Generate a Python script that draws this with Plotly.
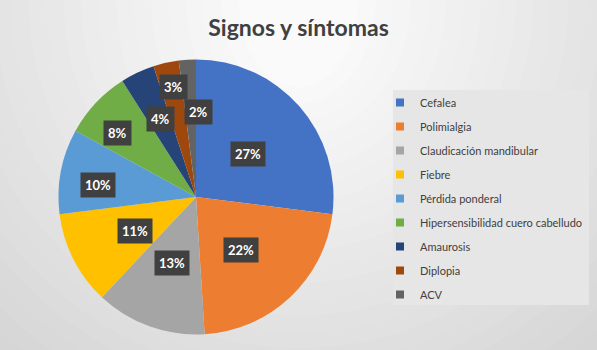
import math
import plotly.graph_objects as go

categories = ["Cefalea", "Polimialgia", "Claudicación mandibular", "Fiebre",
              "Pérdida ponderal", "Hipersensibilidad cuero cabelludo",
              "Amaurosis", "Diplopia", "ACV"]
values = [27, 22, 13, 11, 10, 8, 4, 3, 2]
colors = ["#4472C4", "#ED7D31", "#A5A5A5", "#FFC000", "#5B9BD5",
          "#70AD47", "#264478", "#9E480E", "#636363"]

W, H = 597, 350
cx, cy, R = 196, 197, 137.5  # pie centre / radius in px
FONT = "Lato, Open Sans, sans-serif"

fig = go.Figure()
fig.add_trace(go.Pie(
    labels=categories, values=values, sort=False, direction="clockwise",
    rotation=0, marker=dict(colors=colors, line=dict(width=0)),
    textinfo="none", hoverinfo="label+percent", showlegend=False,
    domain=dict(x=[(cx - R) / W, (cx + R) / W], y=[1 - (cy + R) / H, 1 - (cy - R) / H]),
))

# legend entries (one per category, so that the spacing can match)
for i, (lab, col) in enumerate(zip(categories, colors)):
    fig.add_trace(go.Scatter(
        x=[None], y=[None], mode="markers", name=lab, legendgroup=f"g{i}",
        marker=dict(symbol="square", size=8, color=col), hoverinfo="skip",
    ))

# label placement (radial fraction / angle nudge per slice, style only)
rfrac = [0.49, 0.51, 0.51, 0.51, 0.72, 0.74, 0.62, 0.82, 0.62]
angshift = [1.7, 2.8, 0.5, -1.9, -3.9, -3.9, 0.6, 1.0, 5.2]
total = sum(values)
cum = 0
for v, rf, sh in zip(values, rfrac, angshift):
    mid = (cum + v / 2) / total * 360 + sh
    cum += v
    th = math.radians(mid)
    px = cx + rf * R * math.sin(th)
    py = cy - rf * R * math.cos(th)
    fig.add_annotation(
        x=px / W, y=1 - py / H, xref="paper", yref="paper",
        xanchor="center", yanchor="middle",
        text=f"<b>{round(v / total * 100)}%</b>", showarrow=False,
        font=dict(family=FONT, size=13, color="white"),
        bgcolor="#404040", borderpad=4,
    )

# background radial gradient
shapes = []
n = 30
for i in range(n):
    t = i / (n - 1)
    c = int(205 + (250 - 205) * t)
    rx = 0.95 - 0.85 * t
    ry = 1.6 - 1.35 * t
    shapes.append(dict(type="circle", xref="paper", yref="paper",
                       x0=0.5 - rx, x1=0.5 + rx, y0=1.0 - ry, y1=1.0 + ry,
                       fillcolor=f"rgb({c},{c},{c})", line=dict(width=0), layer="below"))
# legend box
shapes.append(dict(type="rect", xref="paper", yref="paper",
                   x0=393 / W, x1=589 / W, y0=1 - 305 / H, y1=1 - 90 / H,
                   fillcolor="#e6e6e6", line=dict(width=0), layer="below"))

fig.update_layout(
    width=W, height=H, margin=dict(l=0, r=0, t=0, b=0, autoexpand=False),
    paper_bgcolor="#d4d4d4", plot_bgcolor="rgba(0,0,0,0)",
    shapes=shapes,
    xaxis=dict(visible=False), yaxis=dict(visible=False),
    title=dict(text="<b>Signos y síntomas</b>", x=0.5, xanchor="center",
               y=1 - 28 / H, yanchor="middle",
               font=dict(family=FONT, size=23, color="#404040")),
    legend=dict(x=380 / W, y=1 - 88 / H, xanchor="left", yanchor="top",
                bgcolor="rgba(0,0,0,0)", borderwidth=0,
                font=dict(family=FONT, size=11, color="#404040"),
                itemwidth=30, tracegroupgap=5, itemclick=False, itemdoubleclick=False),
    showlegend=True,
)

fig.write_html("out.html", config={"displayModeBar": False},
               post_script="document.body.style.margin='0';document.body.style.overflow='hidden';")
